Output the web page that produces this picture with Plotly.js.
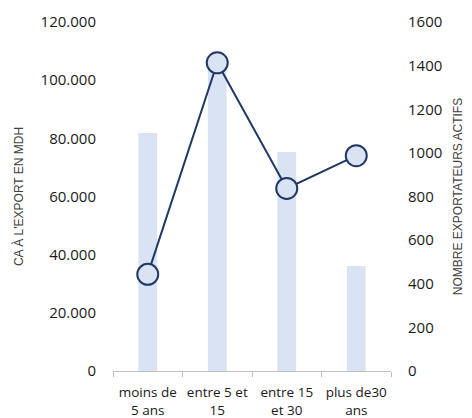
<!DOCTYPE html>
<html>
<head>
<meta charset="utf-8">
<script src="https://cdn.plot.ly/plotly-3.0.1.min.js"></script>
<style>
  html, body { margin: 0; padding: 0; background: #ffffff; }
  #chart { width: 472px; height: 418px; }
</style>
</head>
<body>
<div id="chart"></div>
<script>
const categories = ["moins de<br>5 ans", "entre 5 et<br>15", "entre 15<br>et 30", "plus de30<br>ans"];
const caExport = [81800, 105000, 75300, 36100];
const nbExportateurs = [443, 1413, 837, 987];
const leftTicks = [0, 20000, 40000, 60000, 80000, 100000, 120000];
const leftTickText = ["0", "20.000", "40.000", "60.000", "80.000", "100.000", "120.000"];
const rightTicks = [0, 200, 400, 600, 800, 1000, 1200, 1400, 1600];
const rightTickText = ["0", "200", "400", "600", "800", "1000", "1200", "1400", "1600"];

const xTickFont = { family: "'Open Sans', Lato, sans-serif", size: 13.5, color: "#1a1a1a" };
const yTickFont = { family: "'Open Sans', Lato, sans-serif", size: 15, color: "#1a1a1a" };
const titleFont = { family: "'Liberation Sans', Arial, sans-serif", size: 12, color: "#404040" };

const traces = [
  {
    type: "bar",
    x: categories,
    y: caExport,
    yaxis: "y",
    marker: { color: "#dae3f3" },
    width: 0.27,
    hoverinfo: "none"
  },
  {
    type: "scatter",
    mode: "lines+markers",
    x: categories,
    y: nbExportateurs,
    yaxis: "y2",
    line: { color: "#1f3864", width: 2 },
    marker: { size: 21, color: "#dae3f3", line: { color: "#1f3864", width: 2 } },
    hoverinfo: "none"
  }
];

const layout = {
  width: 472,
  height: 418,
  margin: { l: 113, r: 81, t: 22, b: 47 },
  paper_bgcolor: "#ffffff",
  plot_bgcolor: "#ffffff",
  showlegend: false,
  xaxis: {
    type: "category",
    tickfont: xTickFont,
    tickangle: 0,
    showline: true,
    linecolor: "#bfbfbf",
    linewidth: 1,
    ticks: "outside",
    tickson: "boundaries",
    ticklen: 5,
    tickcolor: "#bfbfbf",
    ticklabelstandoff: 9,
    showgrid: false,
    zeroline: false
  },
  yaxis: {
    range: [0, 120000],
    tickvals: leftTicks,
    ticktext: leftTickText,
    tickfont: yTickFont,
    showgrid: false,
    zeroline: false,
    showline: false,
    ticks: "",
    ticklabelstandoff: 16,
    title: { text: "CA À L'EXPORT EN MDH", font: titleFont, standoff: 14 }
  },
  yaxis2: {
    overlaying: "y",
    side: "right",
    range: [0, 1600],
    tickvals: rightTicks,
    ticktext: rightTickText,
    tickfont: yTickFont,
    showgrid: false,
    zeroline: false,
    showline: false,
    ticks: "",
    ticklabelstandoff: 16,
    title: { text: "NOMBRE EXPORTATEURS ACTIFS", font: titleFont, standoff: 12 }
  }
};

Plotly.newPlot("chart", traces, layout, { displayModeBar: false, staticPlot: true });
</script>
</body>
</html>
